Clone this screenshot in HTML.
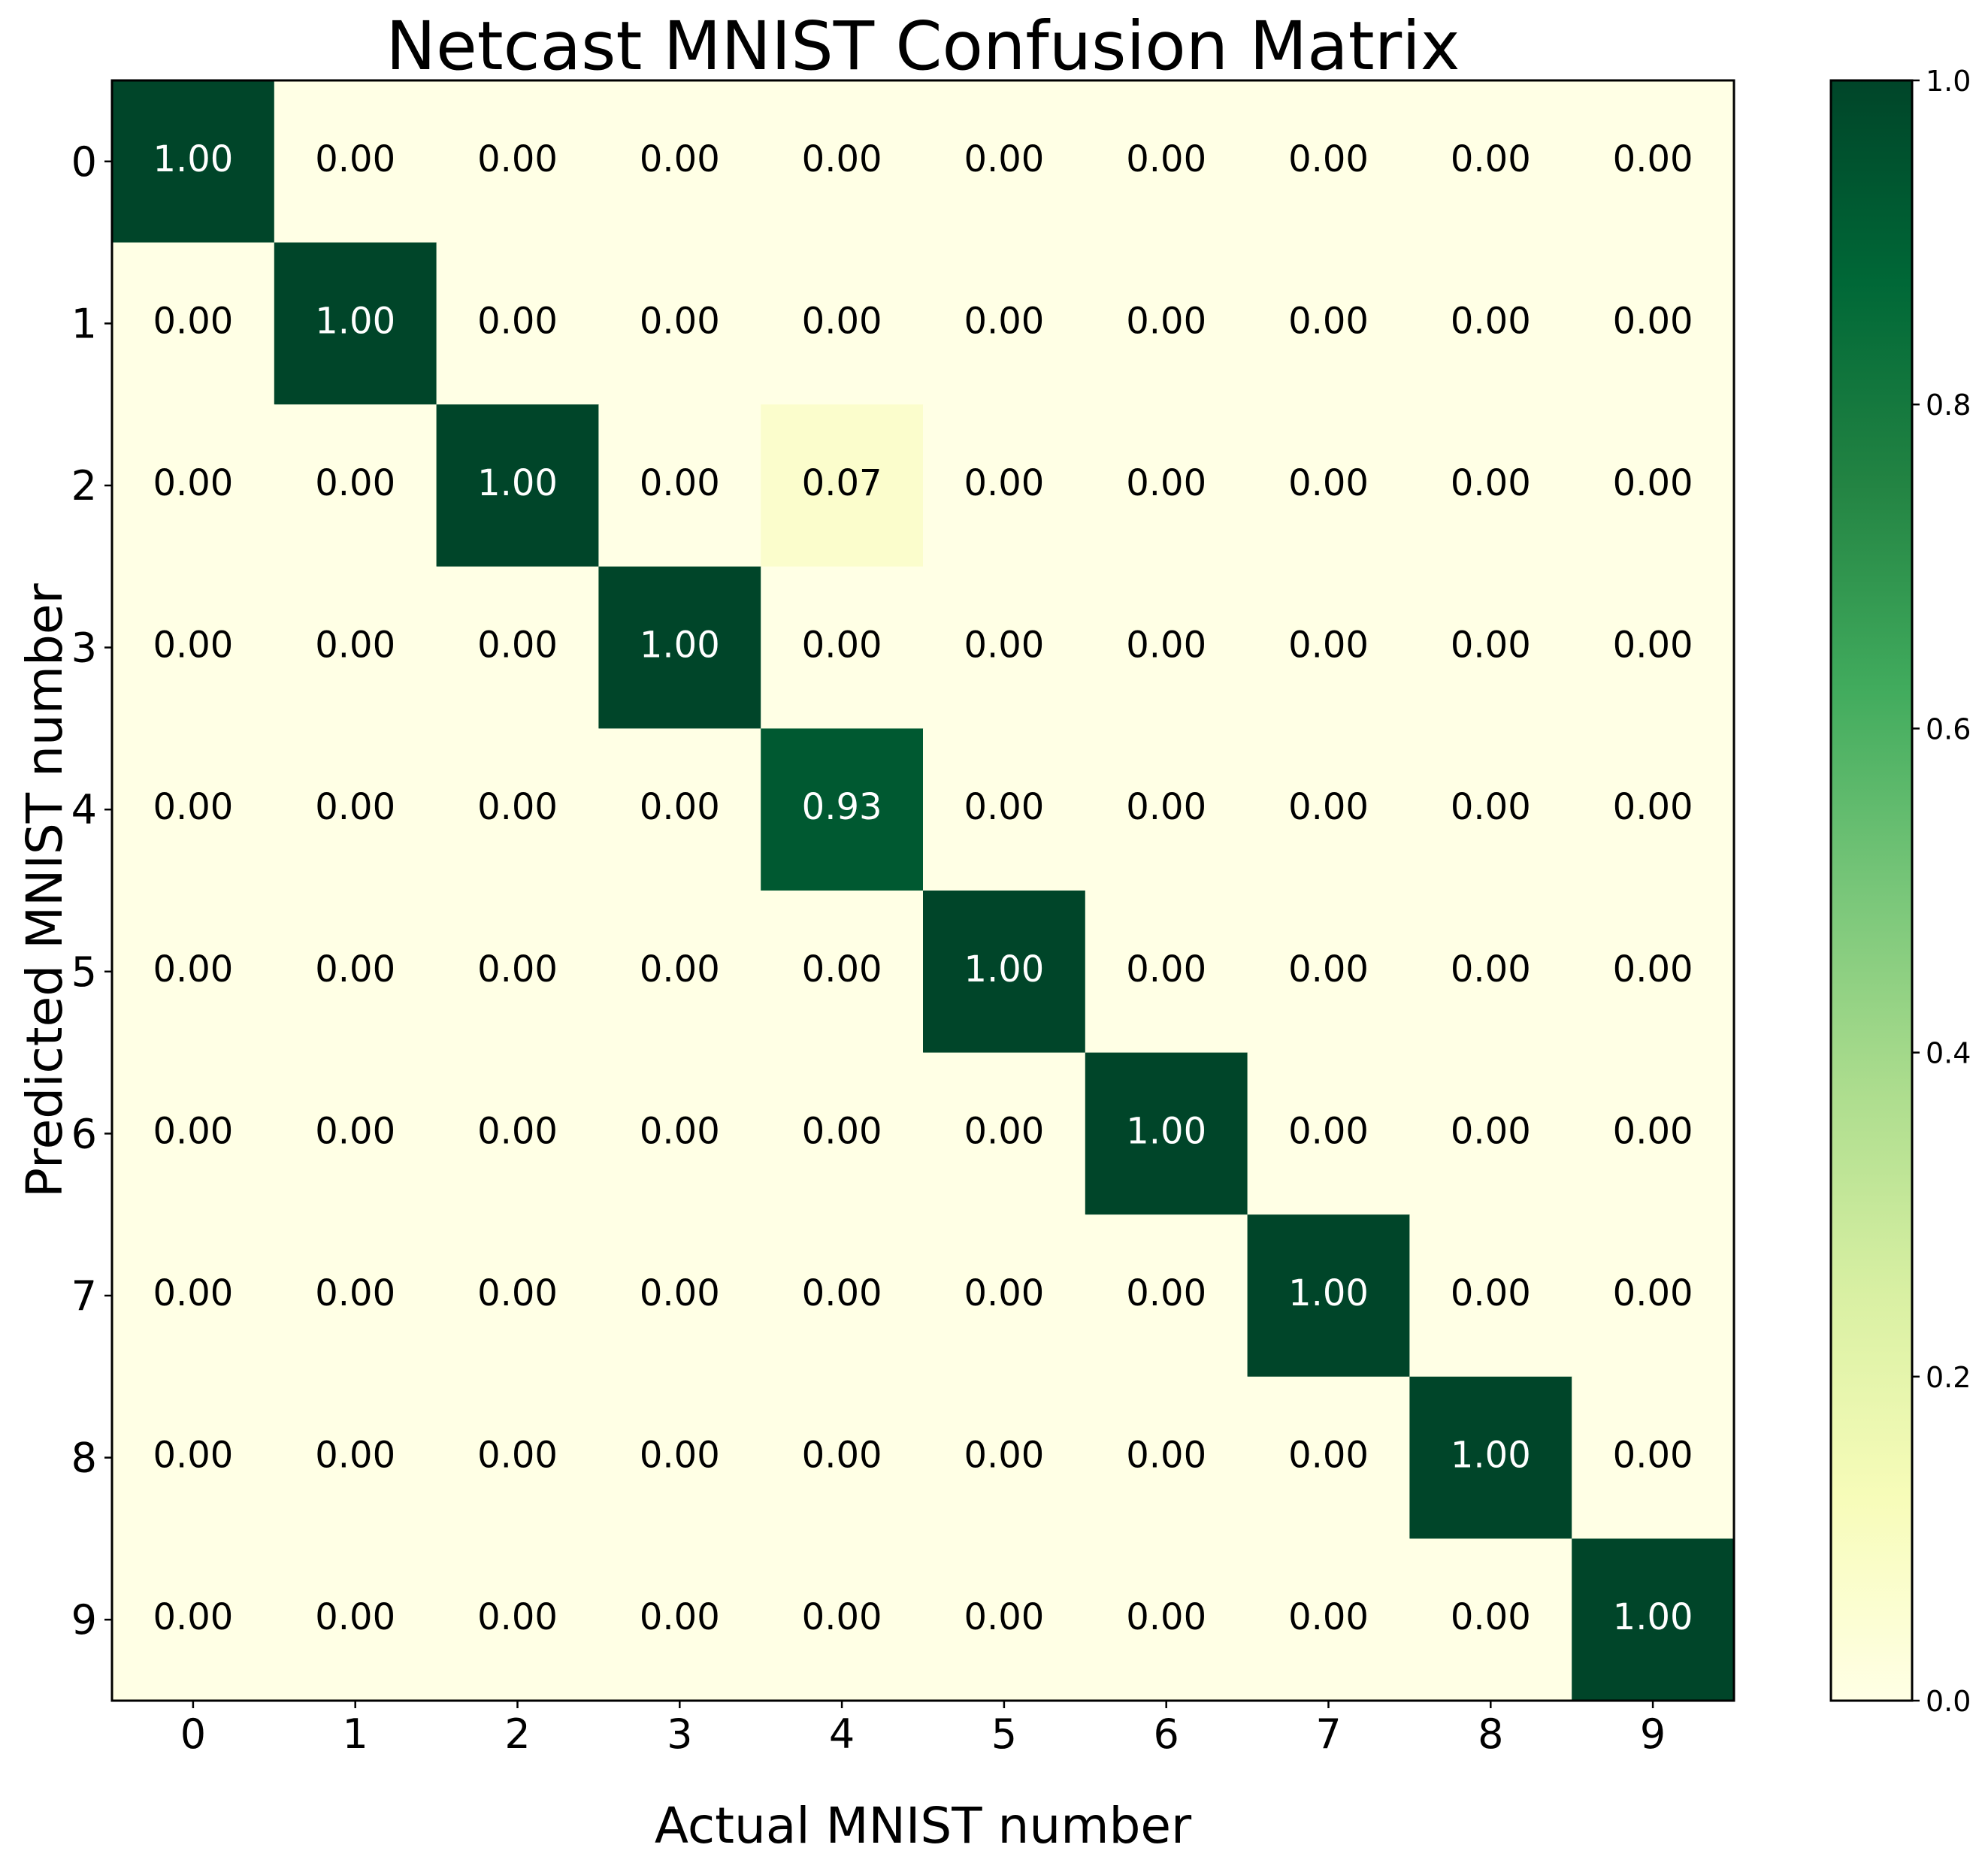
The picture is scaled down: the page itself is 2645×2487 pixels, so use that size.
<!DOCTYPE html>
<html><head><meta charset="utf-8"><style>
html,body{margin:0;padding:0;background:#fff;}
svg{display:block;font-family:"DejaVu Sans","Liberation Sans",sans-serif;}
</style></head><body>
<svg id="chart" width="2645" height="2487" viewBox="0 0 2645 2487" xmlns="http://www.w3.org/2000/svg">
<defs>
<linearGradient id="cbgrad" x1="0" y1="1" x2="0" y2="0">
<stop offset="0" stop-color="#ffffe5"/><stop offset="0.125" stop-color="#f7fcb9"/><stop offset="0.25" stop-color="#d9f0a3"/><stop offset="0.375" stop-color="#addd8e"/><stop offset="0.5" stop-color="#78c679"/><stop offset="0.625" stop-color="#41ab5d"/><stop offset="0.75" stop-color="#238443"/><stop offset="0.875" stop-color="#006837"/><stop offset="1" stop-color="#004529"/>
</linearGradient>
</defs>
<text x="1228" y="92" font-size="89" text-anchor="middle">Netcast MNIST Confusion Matrix</text>
<g id="cells"></g>
<g id="labels"></g>
<rect x="149" y="107" width="2158" height="2156" fill="none" stroke="#000" stroke-width="3"/>
<g id="xticks"></g>
<g id="yticks"></g>
<text x="1228" y="2452" font-size="66" text-anchor="middle">Actual MNIST number</text>
<text x="82" y="1185" font-size="66" text-anchor="middle" transform="rotate(-90 82 1185)">Predicted MNIST number</text>
<rect x="2436" y="107" width="108" height="2156" fill="url(#cbgrad)" stroke="#000" stroke-width="3"/>
<g id="cbticks"></g>
</svg>
<script>
const categories = ["0","1","2","3","4","5","6","7","8","9"];
const matrix = [
[1.00,0,0,0,0,0,0,0,0,0],
[0,1.00,0,0,0,0,0,0,0,0],
[0,0,1.00,0,0.07,0,0,0,0,0],
[0,0,0,1.00,0,0,0,0,0,0],
[0,0,0,0,0.93,0,0,0,0,0],
[0,0,0,0,0,1.00,0,0,0,0],
[0,0,0,0,0,0,1.00,0,0,0],
[0,0,0,0,0,0,0,1.00,0,0],
[0,0,0,0,0,0,0,0,1.00,0],
[0,0,0,0,0,0,0,0,0,1.00]
];
const cbTickValues = [0,0.2,0.4,0.6,0.8,1.0];
const cbTickLabels = ["0.0","0.2","0.4","0.6","0.8","1.0"];

const NS="http://www.w3.org/2000/svg";
const PX0=149,PX1=2307,PY0=107,PY1=2263;
const cw=(PX1-PX0)/categories.length, ch=(PY1-PY0)/categories.length;
function xPos(i){return PX0+i*cw;}
function yPos(i){return PY0+i*ch;}
function cbY(v){return PY1-(PY1-PY0)*v;}
const stops=[[255,255,229],[247,252,185],[217,240,163],[173,221,142],[120,198,121],[65,171,93],[35,132,67],[0,104,55],[0,69,41]];
function color(v){v=Math.max(0,Math.min(1,v));const p=v*8,i=Math.min(7,Math.floor(p)),f=p-i;const a=stops[i],b=stops[i+1];return "rgb("+a.map((c,k)=>Math.round(c+(b[k]-c)*f)).join(",")+")";}
function mk(t,attrs,parent){const e=document.createElementNS(NS,t);for(const k in attrs)e.setAttribute(k,attrs[k]);parent.appendChild(e);return e;}
const gC=document.getElementById("cells"),gL=document.getElementById("labels"),gX=document.getElementById("xticks"),gY=document.getElementById("yticks"),gB=document.getElementById("cbticks");
matrix.forEach((row,r)=>row.forEach((v,c)=>{
 const rc=mk("rect",{x:xPos(c),y:yPos(r),width:cw+0.6,height:ch+0.6,fill:color(v)},gC);
 
 
 const t=mk("text",{x:xPos(c)+cw/2,y:yPos(r)+ch/2+13,"font-size":48,"text-anchor":"middle",fill:v>0.5?"#fff":"#000"},gL);
 t.textContent=v.toFixed(2);
 
 
}));
categories.forEach((c,i)=>{
 const cx=xPos(i)+cw/2;
 const l=mk("line",{x1:cx,x2:cx,y1:PY1,y2:PY1+10,stroke:"#000","stroke-width":2.5},gX);
 
 
 const t=mk("text",{x:cx,y:PY1+63,"font-size":54,"text-anchor":"middle"},gX);
 t.textContent=c;
 
 
 const cy=yPos(i)+ch/2;
 const l2=mk("line",{x1:PX0-10,x2:PX0,y1:cy,y2:cy,stroke:"#000","stroke-width":2.5},gY);
 
 
 const t2=mk("text",{x:PX0-20,y:cy+19,"font-size":54,"text-anchor":"end"},gY);
 t2.textContent=c;
 
 
});
cbTickValues.forEach((v,i)=>{
 const y=cbY(v);
 const l=mk("line",{x1:2544,x2:2554,y1:y,y2:y,stroke:"#000","stroke-width":2.5},gB);
 
 
 const t=mk("text",{x:2562,y:y+14,"font-size":38},gB);
 t.textContent=cbTickLabels[i];
 
 
});
</script>
</body></html>
